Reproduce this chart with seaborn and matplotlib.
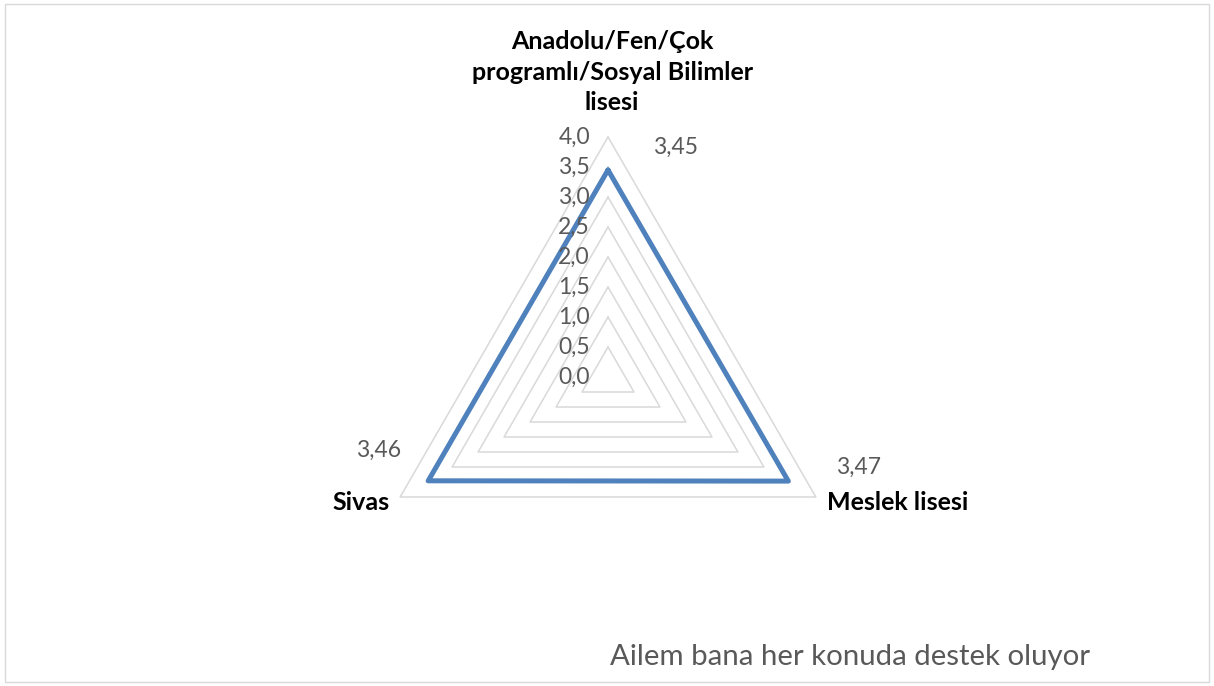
import numpy as np
import pandas as pd
import matplotlib
matplotlib.use("Agg")
import matplotlib.pyplot as plt
import seaborn as sns

categories = ["Anadolu/Fen/Çok\nprogramlı/Sosyal Bilimler\nlisesi", "Meslek lisesi", "Sivas"]
values = [3.45, 3.47, 3.46]
value_labels = ["3,45", "3,47", "3,46"]
ticks = [0.0, 0.5, 1.0, 1.5, 2.0, 2.5, 3.0, 3.5, 4.0]
title = "Ailem bana her konuda destek oluyor"

sns.set_theme(style="white")
plt.rcParams["font.family"] = ["Lato", "DejaVu Sans"]

angles = np.deg2rad([90, -30, 210])

fig = plt.figure(figsize=(12.14, 6.86), dpi=100)
ax = fig.add_axes([0, 0, 1, 1])
ax.set_xlim(-608 / 60, (1214 - 608) / 60)
ax.set_ylim(-(686 - 377) / 60, 377 / 60)
ax.axis("off")

# grid triangles
for t in ticks[1:]:
    gx = list(t * np.cos(angles)) + [t * np.cos(angles[0])]
    gy = list(t * np.sin(angles)) + [t * np.sin(angles[0])]
    grid = pd.DataFrame({"x": gx, "y": gy})
    sns.lineplot(data=grid, x="x", y="y", sort=False, estimator=None,
                 color="#d9d9d9", lw=1.1, ax=ax)

# data series
vx = list(np.array(values) * np.cos(angles)) + [values[0] * np.cos(angles[0])]
vy = list(np.array(values) * np.sin(angles)) + [values[0] * np.sin(angles[0])]
series = pd.DataFrame({"x": vx, "y": vy})
sns.lineplot(data=series, x="x", y="y", sort=False, estimator=None,
             color="#4f81bd", lw=3.6, ax=ax)
ax.set_xlabel("")
ax.set_ylabel("")

# tick labels along the top axis
for t in ticks:
    ax.text(-0.3, t, f"{t:.1f}".replace(".", ","), ha="right", va="center",
            fontsize=16.5, color="#595959")

# value labels
ax.text(1.12, 3.83, value_labels[0], ha="center", va="center", fontsize=16.5, color="#595959")
ax.text(4.17, -1.5, value_labels[1], ha="center", va="center", fontsize=16.5, color="#595959")
ax.text(-3.83, -1.23, value_labels[2], ha="center", va="center", fontsize=16.5, color="#595959")

# category labels
ax.text(0.07, 5.08, categories[0], ha="center", va="center", fontsize=18,
        fontweight="bold", color="black", linespacing=1.38)
ax.text(4.82, -2.1, categories[1], ha="center", va="center", fontsize=18,
        fontweight="bold", color="black")
ax.text(-4.12, -2.1, categories[2], ha="center", va="center", fontsize=18,
        fontweight="bold", color="black")

fig.text(0.5025, 0.042, title, ha="left", va="center", fontsize=21.2, color="#595959")

fig.patches.append(plt.Rectangle((0.004, 0.006), 0.992, 0.988, transform=fig.transFigure,
                                 fill=False, edgecolor="#d9d9d9", lw=1))

fig.savefig("out.png", dpi=100)
